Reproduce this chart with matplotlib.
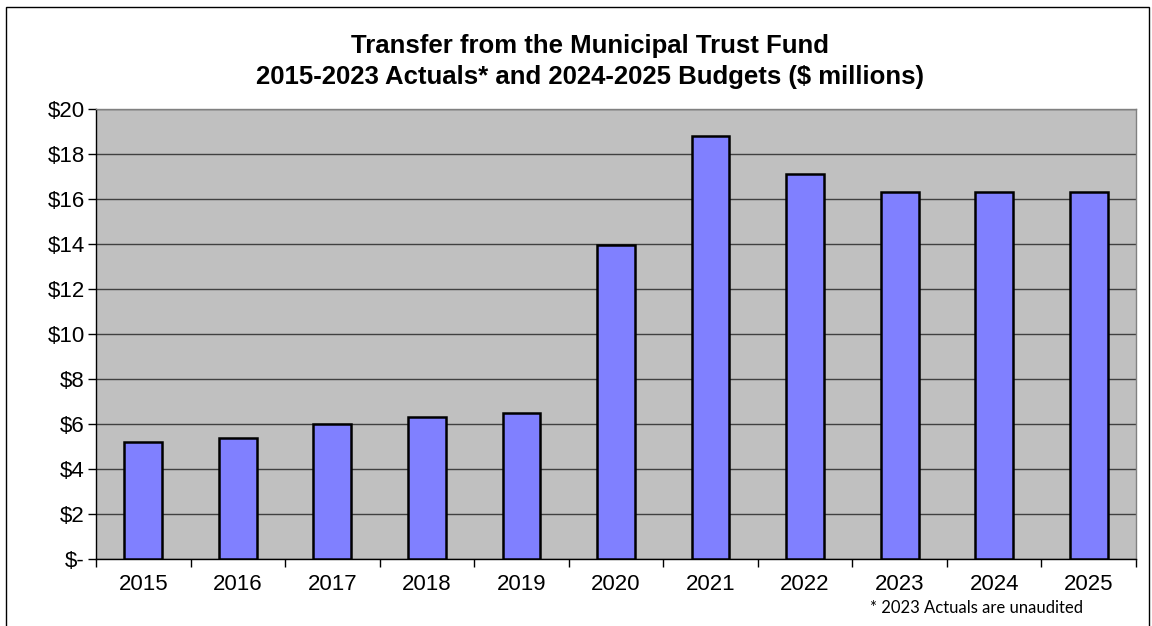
import matplotlib.pyplot as plt
import numpy as np
from matplotlib.patches import Rectangle

# Transfer from the Municipal Trust Fund ($ millions)
years = ['2015', '2016', '2017', '2018', '2019', '2020', '2021', '2022', '2023', '2024', '2025']
transfer = [5.2, 5.4, 6.0, 6.3, 6.5, 13.95, 18.8, 17.1, 16.3, 16.3, 16.3]
y_ticks = [0, 2, 4, 6, 8, 10, 12, 14, 16, 18, 20]
y_labels = ['$-', '$2', '$4', '$6', '$8', '$10', '$12', '$14', '$16', '$18', '$20']

plt.rcParams['font.family'] = ['Liberation Sans', 'DejaVu Sans']

fig = plt.figure(figsize=(11.52, 6.26), dpi=100)
ax = fig.add_axes([96/1152, 1 - 559/626, (1136-96)/1152, (559-109)/626])

x = np.arange(len(years))
ax.bar(x, transfer, width=0.4, color='#8080ff', edgecolor='black', linewidth=1.8, zorder=3)

ax.set_facecolor('#c0c0c0')
ax.set_xlim(-0.5, len(years) - 0.5)
ax.set_ylim(0, 20)
ax.set_yticks(y_ticks)
ax.set_yticklabels(y_labels, fontsize=16)
ax.yaxis.grid(True, color='#404040', linewidth=1)
ax.set_axisbelow(True)

# category labels centered, ticks at the boundaries
ax.set_xticks(x)
ax.set_xticklabels(years, fontsize=16)
ax.tick_params(axis='x', length=0, pad=11)
ax.set_xticks(np.arange(-0.5, len(years), 1), minor=True)
ax.tick_params(axis='x', which='minor', length=6, width=1, direction='out')
ax.tick_params(axis='y', length=6, width=1, direction='out', pad=2)

for s in ['left', 'bottom']:
    ax.spines[s].set_color('black')
    ax.spines[s].set_linewidth(1)
for s in ['top', 'right']:
    ax.spines[s].set_color('#808080')
    ax.spines[s].set_linewidth(1)

fig.text(590/1152, 1 - 46/626, 'Transfer from the Municipal Trust Fund', ha='center', va='center',
         fontsize=18.5, fontweight='bold')
fig.text(590/1152, 1 - 77/626, '2015-2023 Actuals* and 2024-2025 Budgets ($ millions)', ha='center', va='center',
         fontsize=18.5, fontweight='bold')
fig.text(870/1152, 1 - 608/626, '* 2023 Actuals are unaudited', ha='left', va='center',
         fontsize=12, family=['Lato', 'DejaVu Sans'])

# outer chart border
fig.patches.append(Rectangle((6/1152, -0.01), (1149-6)/1152, 1.01 - 7/626, transform=fig.transFigure,
                             fill=False, edgecolor='black', linewidth=1))

fig.savefig('out.png', dpi=100)
